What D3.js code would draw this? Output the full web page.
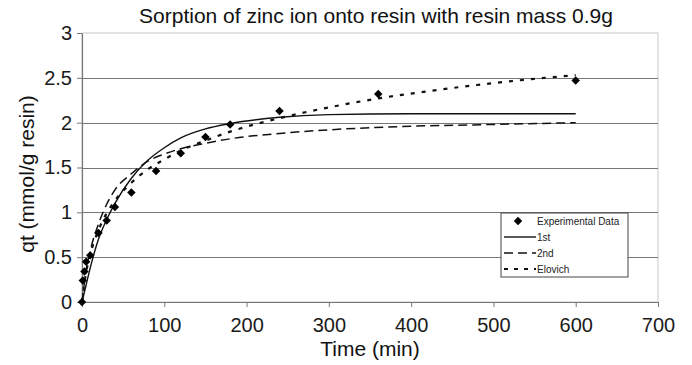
<!DOCTYPE html>
<html>
<head>
<meta charset="utf-8">
<script src="https://cdn.jsdelivr.net/npm/d3@7"></script>
<style>
  body { margin: 0; background: #fff; }
  svg { display: block; font-family: "Liberation Sans", Arial, sans-serif; }
</style>
</head>
<body>
<div id="chart"></div>
<script>
const width = 692;
const height = 365;
const margin = { top: 33, right: 34, bottom: 63, left: 82 };

// experimental points (time in min, qt in mmol/g)
const expTime = [0, 1, 3, 5, 10, 20, 30, 40, 60, 90, 120, 150, 180, 240, 360, 600];
const expQt = [0, 0.24, 0.34, 0.45, 0.52, 0.77, 0.91, 1.06, 1.22, 1.46, 1.66, 1.84, 1.98, 2.13, 2.32, 2.47];

// model curves
const firstTime = [0, 5, 10, 20, 30, 40, 60, 80, 100, 120, 150, 180, 240, 300, 400, 600];
const firstQt = [0, 0.19, 0.38, 0.70, 0.92, 1.10, 1.38, 1.58, 1.72, 1.83, 1.93, 1.99, 2.06, 2.09, 2.10, 2.10];

const secondTime = [0, 5, 10, 20, 30, 40, 60, 80, 100, 120, 150, 180, 240, 300, 400, 500, 600];
const secondQt = [0, 0.35, 0.57, 0.87, 1.09, 1.25, 1.43, 1.57, 1.65, 1.71, 1.77, 1.82, 1.88, 1.92, 1.96, 1.98, 2.00];

const elovichTime = [0, 5, 10, 20, 30, 40, 60, 80, 100, 120, 150, 180, 240, 300, 360, 420, 480, 540, 600];
const elovichQt = [0, 0.33, 0.53, 0.80, 0.99, 1.13, 1.33, 1.48, 1.59, 1.69, 1.80, 1.90, 2.05, 2.17, 2.27, 2.35, 2.42, 2.48, 2.53];

const xTicks = [0, 100, 200, 300, 400, 500, 600, 700];
const yTicks = [0, 0.5, 1, 1.5, 2, 2.5, 3];

const legendLabels = ["Experimental Data", "1st", "2nd", "Elovich"];

const svg = d3.select("#chart")
  .append("svg")
  .attr("width", width)
  .attr("height", height);

const x = d3.scaleLinear()
  .domain([0, 700])
  .range([margin.left, width - margin.right]);

const y = d3.scaleLinear()
  .domain([0, 3])
  .range([height - margin.bottom, margin.top]);

// plot area border (light)
svg.append("rect")
  .attr("x", x(0))
  .attr("y", y(3))
  .attr("width", x(700) - x(0))
  .attr("height", y(0) - y(3))
  .attr("fill", "none")
  .attr("stroke", "#c8c8c8")
  .attr("stroke-width", 1);

// gridlines
svg.append("g")
  .selectAll("line")
  .data(yTicks.filter(d => d > 0 && d < 3))
  .join("line")
  .attr("x1", x(0))
  .attr("x2", x(700))
  .attr("y1", d => Math.round(y(d)) + 0.5)
  .attr("y2", d => Math.round(y(d)) + 0.5)
  .attr("stroke", "#777")
  .attr("stroke-width", 1.2);

// axes
const xAxis = svg.append("g")
  .attr("transform", `translate(0,${y(0)})`)
  .call(d3.axisBottom(x).tickValues(xTicks).tickSize(5).tickSizeOuter(0).tickPadding(11));

const yAxis = svg.append("g")
  .attr("transform", `translate(${x(0)},0)`)
  .call(d3.axisLeft(y).tickValues(yTicks).tickFormat(d3.format("")).tickSize(5).tickSizeOuter(0).tickPadding(5));

[xAxis, yAxis].forEach(g => {
  g.select(".domain").attr("stroke", "#777").attr("stroke-width", 1.2);
  g.selectAll(".tick line").attr("stroke", "#777");
  g.selectAll("text")
    .attr("font-family", "Liberation Sans, Arial, sans-serif")
    .attr("font-size", "20px")
    .attr("fill", "#1a1a1a");
});

// model lines
const line = d3.line()
  .x(d => x(d[0]))
  .y(d => y(d[1]))
  .curve(d3.curveMonotoneX);

const models = [
  { t: firstTime, q: firstQt, dash: null, w: 1.4 },
  { t: secondTime, q: secondQt, dash: "9,5", w: 1.5 },
  { t: elovichTime, q: elovichQt, dash: "4,7", w: 2.2 }
];

models.forEach(m => {
  svg.append("path")
    .datum(m.t.map((t, i) => [t, m.q[i]]))
    .attr("d", line)
    .attr("fill", "none")
    .attr("stroke", "#111")
    .attr("stroke-width", m.w)
    .attr("stroke-dasharray", m.dash);
});

// experimental markers - square turned 45deg
const diamond = d3.symbol().type(d3.symbolSquare).size(36);

svg.append("g")
  .selectAll("path")
  .data(expTime.map((t, i) => [t, expQt[i]]))
  .join("path")
  .attr("transform", d => `translate(${x(d[0])},${y(d[1])}) rotate(45)`)
  .attr("d", diamond)
  .attr("fill", "#000");

// legend
const legend = svg.append("g").attr("transform", "translate(501,213)");

legend.append("rect")
  .attr("width", 127)
  .attr("height", 64)
  .attr("fill", "#fff")
  .attr("stroke", "#444")
  .attr("stroke-width", 1);

const rowY = [8, 24, 40, 56];

legend.append("path")
  .attr("transform", `translate(17,${rowY[0]}) rotate(45)`)
  .attr("d", diamond)
  .attr("fill", "#000");

[1, 2, 3].forEach(i => {
  const m = models[i - 1];
  legend.append("line")
    .attr("x1", 3)
    .attr("x2", 35)
    .attr("y1", rowY[i])
    .attr("y2", rowY[i])
    .attr("stroke", "#111")
    .attr("stroke-width", m.w)
    .attr("stroke-dasharray", i === 3 ? "4,6" : m.dash);
});

legend.selectAll("text")
  .data(legendLabels)
  .join("text")
  .attr("x", 36)
  .attr("y", (d, i) => rowY[i])
  .attr("dy", "0.35em")
  .attr("font-size", "10px")
  .attr("fill", "#222")
  .text(d => d);

// title and axis labels
svg.append("text")
  .attr("x", 376)
  .attr("y", 23)
  .attr("text-anchor", "middle")
  .attr("font-size", "21px")
  .attr("fill", "#111")
  .text("Sorption of zinc ion onto resin with resin mass 0.9g");

svg.append("text")
  .attr("x", (x(0) + x(700)) / 2)
  .attr("y", 356)
  .attr("text-anchor", "middle")
  .attr("font-size", "21px")
  .attr("fill", "#111")
  .text("Time (min)");

svg.append("text")
  .attr("transform", "rotate(-90)")
  .attr("x", -174)
  .attr("y", 34)
  .attr("text-anchor", "middle")
  .attr("font-size", "21px")
  .attr("fill", "#111")
  .text("qt (mmol/g resin)");
</script>
</body>
</html>
